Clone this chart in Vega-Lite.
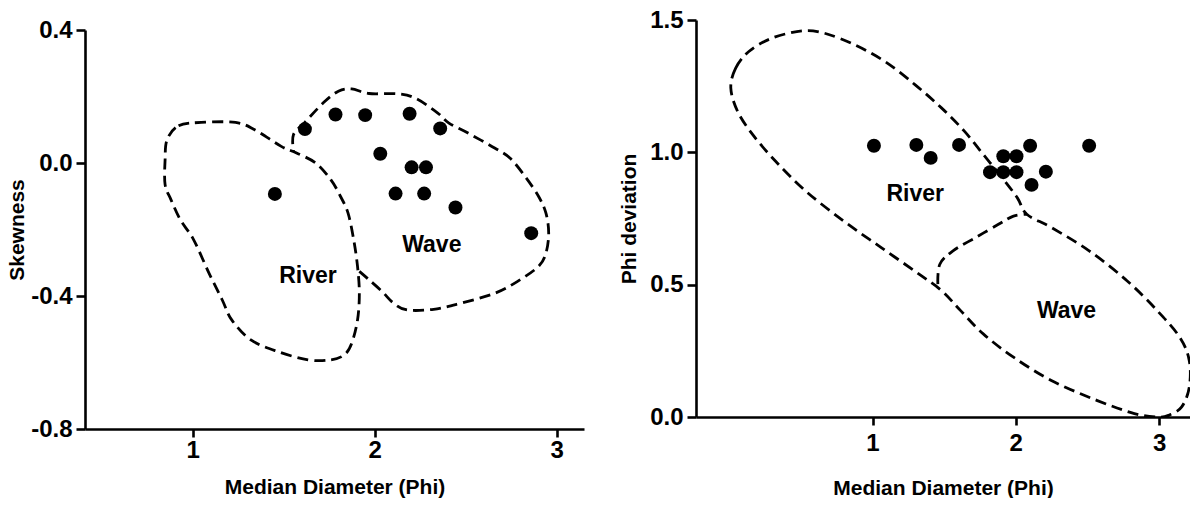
{
  "$schema": "https://vega.github.io/schema/vega-lite/v6.json",
  "padding": {"left": 6, "top": 8, "right": 0, "bottom": 0},
  "spacing": 34,
  "background": "white",
  "config": {
    "view": {"stroke": null},
    "axis": {
      "grid": false,
      "domainColor": "black",
      "domainWidth": 2.6,
      "tickColor": "black",
      "tickWidth": 2.6,
      "labelFont": "Liberation Sans",
      "labelFontSize": 24,
      "labelFontWeight": "bold",
      "labelColor": "black",
      "titleFont": "Liberation Sans",
      "titleFontSize": 21,
      "titleFontWeight": "bold",
      "titleColor": "black",
      "labelFlush": false,
      "labelOverlap": false,
      "labelBound": false
    },
    "axisX": {"tickSize": 8},
    "axisY": {"tickSize": 9, "labelPadding": 4}
  },
  "datasets": {
    "leftRiver": [
      {"o": 0, "x": 0.860, "y": 0.070},
      {"o": 1, "x": 0.923, "y": 0.112},
      {"o": 2, "x": 1.048, "y": 0.122},
      {"o": 3, "x": 1.236, "y": 0.122},
      {"o": 4, "x": 1.341, "y": 0.100},
      {"o": 5, "x": 1.487, "y": 0.050},
      {"o": 6, "x": 1.571, "y": 0.030},
      {"o": 7, "x": 1.676, "y": 0.000},
      {"o": 8, "x": 1.759, "y": -0.050},
      {"o": 9, "x": 1.812, "y": -0.100},
      {"o": 10, "x": 1.854, "y": -0.151},
      {"o": 11, "x": 1.885, "y": -0.231},
      {"o": 12, "x": 1.906, "y": -0.311},
      {"o": 13, "x": 1.916, "y": -0.392},
      {"o": 14, "x": 1.906, "y": -0.472},
      {"o": 15, "x": 1.874, "y": -0.542},
      {"o": 16, "x": 1.833, "y": -0.577},
      {"o": 17, "x": 1.759, "y": -0.592},
      {"o": 18, "x": 1.634, "y": -0.592},
      {"o": 19, "x": 1.467, "y": -0.567},
      {"o": 20, "x": 1.320, "y": -0.532},
      {"o": 21, "x": 1.215, "y": -0.472},
      {"o": 22, "x": 1.163, "y": -0.412},
      {"o": 23, "x": 1.090, "y": -0.331},
      {"o": 24, "x": 1.006, "y": -0.231},
      {"o": 25, "x": 0.933, "y": -0.171},
      {"o": 26, "x": 0.881, "y": -0.110},
      {"o": 27, "x": 0.849, "y": -0.065},
      {"o": 28, "x": 0.849, "y": 0.010}
    ],
    "leftWave": [
      {"o": 0, "x": 1.916, "y": -0.326},
      {"o": 1, "x": 1.969, "y": -0.351},
      {"o": 2, "x": 2.042, "y": -0.387},
      {"o": 3, "x": 2.105, "y": -0.422},
      {"o": 4, "x": 2.178, "y": -0.442},
      {"o": 5, "x": 2.324, "y": -0.440},
      {"o": 6, "x": 2.471, "y": -0.422},
      {"o": 7, "x": 2.659, "y": -0.392},
      {"o": 8, "x": 2.785, "y": -0.356},
      {"o": 9, "x": 2.900, "y": -0.311},
      {"o": 10, "x": 2.941, "y": -0.271},
      {"o": 11, "x": 2.956, "y": -0.211},
      {"o": 12, "x": 2.941, "y": -0.151},
      {"o": 13, "x": 2.900, "y": -0.100},
      {"o": 14, "x": 2.826, "y": -0.040},
      {"o": 15, "x": 2.743, "y": 0.015},
      {"o": 16, "x": 2.659, "y": 0.045},
      {"o": 17, "x": 2.513, "y": 0.090},
      {"o": 18, "x": 2.408, "y": 0.120},
      {"o": 19, "x": 2.345, "y": 0.151},
      {"o": 20, "x": 2.230, "y": 0.193},
      {"o": 21, "x": 2.136, "y": 0.208},
      {"o": 22, "x": 1.969, "y": 0.209},
      {"o": 23, "x": 1.874, "y": 0.223},
      {"o": 24, "x": 1.801, "y": 0.216},
      {"o": 25, "x": 1.718, "y": 0.181},
      {"o": 26, "x": 1.613, "y": 0.120},
      {"o": 27, "x": 1.554, "y": 0.085},
      {"o": 28, "x": 1.554, "y": 0.035}
    ],
    "leftPoints": [
      {"x": 1.452, "y": -0.093},
      {"x": 1.617, "y": 0.102},
      {"x": 1.785, "y": 0.146},
      {"x": 1.948, "y": 0.144},
      {"x": 2.192, "y": 0.148},
      {"x": 2.360, "y": 0.104},
      {"x": 2.031, "y": 0.028},
      {"x": 2.203, "y": -0.013},
      {"x": 2.282, "y": -0.013},
      {"x": 2.115, "y": -0.092},
      {"x": 2.272, "y": -0.092},
      {"x": 2.444, "y": -0.134},
      {"x": 2.860, "y": -0.211}
    ],
    "leftLabels": [
      {"x": 1.634, "y": -0.341, "label": "River"},
      {"x": 2.314, "y": -0.246, "label": "Wave"}
    ],
    "rightOuter": [
      {"o": 0, "x": 0.011, "y": 1.243},
      {"o": 1, "x": 0.045, "y": 1.318},
      {"o": 2, "x": 0.137, "y": 1.381},
      {"o": 3, "x": 0.296, "y": 1.431},
      {"o": 4, "x": 0.507, "y": 1.459},
      {"o": 5, "x": 0.665, "y": 1.450},
      {"o": 6, "x": 0.876, "y": 1.406},
      {"o": 7, "x": 1.087, "y": 1.343},
      {"o": 8, "x": 1.298, "y": 1.255},
      {"o": 9, "x": 1.483, "y": 1.167},
      {"o": 10, "x": 1.641, "y": 1.080},
      {"o": 11, "x": 1.773, "y": 0.992},
      {"o": 12, "x": 1.905, "y": 0.904},
      {"o": 13, "x": 2.011, "y": 0.828},
      {"o": 14, "x": 2.077, "y": 0.766},
      {"o": 15, "x": 2.248, "y": 0.716},
      {"o": 16, "x": 2.512, "y": 0.628},
      {"o": 17, "x": 2.776, "y": 0.515},
      {"o": 18, "x": 2.987, "y": 0.402},
      {"o": 19, "x": 3.145, "y": 0.301},
      {"o": 20, "x": 3.211, "y": 0.213},
      {"o": 21, "x": 3.211, "y": 0.113},
      {"o": 22, "x": 3.158, "y": 0.038},
      {"o": 23, "x": 3.066, "y": 0.006},
      {"o": 24, "x": 2.987, "y": 0.000},
      {"o": 25, "x": 2.828, "y": 0.013},
      {"o": 26, "x": 2.565, "y": 0.063},
      {"o": 27, "x": 2.248, "y": 0.138},
      {"o": 28, "x": 1.984, "y": 0.226},
      {"o": 29, "x": 1.773, "y": 0.314},
      {"o": 30, "x": 1.615, "y": 0.402},
      {"o": 31, "x": 1.483, "y": 0.477},
      {"o": 32, "x": 1.325, "y": 0.540},
      {"o": 33, "x": 1.061, "y": 0.640},
      {"o": 34, "x": 0.797, "y": 0.741},
      {"o": 35, "x": 0.533, "y": 0.854},
      {"o": 36, "x": 0.322, "y": 0.967},
      {"o": 37, "x": 0.164, "y": 1.067},
      {"o": 38, "x": 0.058, "y": 1.155}
    ],
    "rightDivider": [
      {"o": 0, "x": 1.456, "y": 0.502},
      {"o": 1, "x": 1.470, "y": 0.577},
      {"o": 2, "x": 1.562, "y": 0.628},
      {"o": 3, "x": 1.720, "y": 0.678},
      {"o": 4, "x": 1.879, "y": 0.728},
      {"o": 5, "x": 1.984, "y": 0.759},
      {"o": 6, "x": 2.077, "y": 0.766}
    ],
    "rightPoints": [
      {"x": 1.010, "y": 1.025},
      {"x": 1.306, "y": 1.028},
      {"x": 1.406, "y": 0.979},
      {"x": 1.604, "y": 1.028},
      {"x": 2.100, "y": 1.025},
      {"x": 2.512, "y": 1.025},
      {"x": 1.913, "y": 0.985},
      {"x": 2.005, "y": 0.985},
      {"x": 1.820, "y": 0.925},
      {"x": 1.913, "y": 0.925},
      {"x": 2.005, "y": 0.925},
      {"x": 2.210, "y": 0.927},
      {"x": 2.110, "y": 0.877}
    ],
    "rightLabels": [
      {"x": 1.298, "y": 0.841, "label": "River"},
      {"x": 2.354, "y": 0.402, "label": "Wave"}
    ]
  },
  "hconcat": [
    {
      "width": 499,
      "height": 409,
      "encoding": {
        "x": {
          "field": "x", "type": "quantitative",
          "scale": {"domain": [0.409, 3.15], "nice": false, "zero": false},
          "axis": {"values": [1, 2, 3], "format": "d", "title": "Median Diameter (Phi)", "labelPadding": 1, "titlePadding": 14}
        },
        "y": {
          "field": "y", "type": "quantitative",
          "scale": {"domain": [-0.8, 0.4], "range": [409, 10], "nice": false, "zero": false},
          "axis": {
            "values": [-0.8, -0.4, 0, 0.4],
            "labelExpr": "datum.value < 0 ? '-' + format(-datum.value, '.1f') : format(datum.value, '.1f')",
            "title": "Skewness", "titlePadding": 3
          }
        }
      },
      "layer": [
        {
          "data": {"name": "leftRiver"},
          "mark": {"type": "line", "interpolate": "cardinal-closed", "strokeDash": [11, 6], "strokeWidth": 2.8, "color": "black", "clip": true},
          "encoding": {"order": {"field": "o", "type": "quantitative"}}
        },
        {
          "data": {"name": "leftWave"},
          "mark": {"type": "line", "interpolate": "cardinal", "strokeDash": [11, 6], "strokeWidth": 2.8, "color": "black", "clip": true},
          "encoding": {"order": {"field": "o", "type": "quantitative"}}
        },
        {
          "data": {"name": "leftPoints"},
          "mark": {"type": "circle", "size": 195, "color": "black", "opacity": 1}
        },
        {
          "data": {"name": "leftLabels"},
          "mark": {"type": "text", "font": "Liberation Sans", "fontSize": 23, "fontWeight": "bold", "color": "black"},
          "encoding": {"text": {"field": "label"}}
        }
      ]
    },
    {
      "width": 494,
      "height": 397,
      "encoding": {
        "x": {
          "field": "x", "type": "quantitative",
          "scale": {"domain": [-0.232, 3.216], "nice": false, "zero": false},
          "axis": {"values": [1, 2, 3], "format": "d", "title": "Median Diameter (Phi)", "labelPadding": 6, "titlePadding": 22}
        },
        "y": {
          "field": "y", "type": "quantitative",
          "scale": {"domain": [0, 1.5], "nice": false, "zero": false},
          "axis": {"values": [0, 0.5, 1, 1.5], "format": ".1f", "title": "Phi deviation", "titlePadding": 10}
        }
      },
      "layer": [
        {
          "data": {"name": "rightOuter"},
          "mark": {"type": "line", "interpolate": "cardinal-closed", "strokeDash": [11, 6], "strokeWidth": 2.8, "color": "black", "clip": true},
          "encoding": {"order": {"field": "o", "type": "quantitative"}}
        },
        {
          "data": {"name": "rightDivider"},
          "mark": {"type": "line", "interpolate": "cardinal", "strokeDash": [11, 6], "strokeWidth": 2.8, "color": "black", "clip": true},
          "encoding": {"order": {"field": "o", "type": "quantitative"}}
        },
        {
          "data": {"name": "rightPoints"},
          "mark": {"type": "circle", "size": 195, "color": "black", "opacity": 1}
        },
        {
          "data": {"name": "rightLabels"},
          "mark": {"type": "text", "font": "Liberation Sans", "fontSize": 23, "fontWeight": "bold", "color": "black"},
          "encoding": {"text": {"field": "label"}}
        }
      ]
    }
  ]
}
